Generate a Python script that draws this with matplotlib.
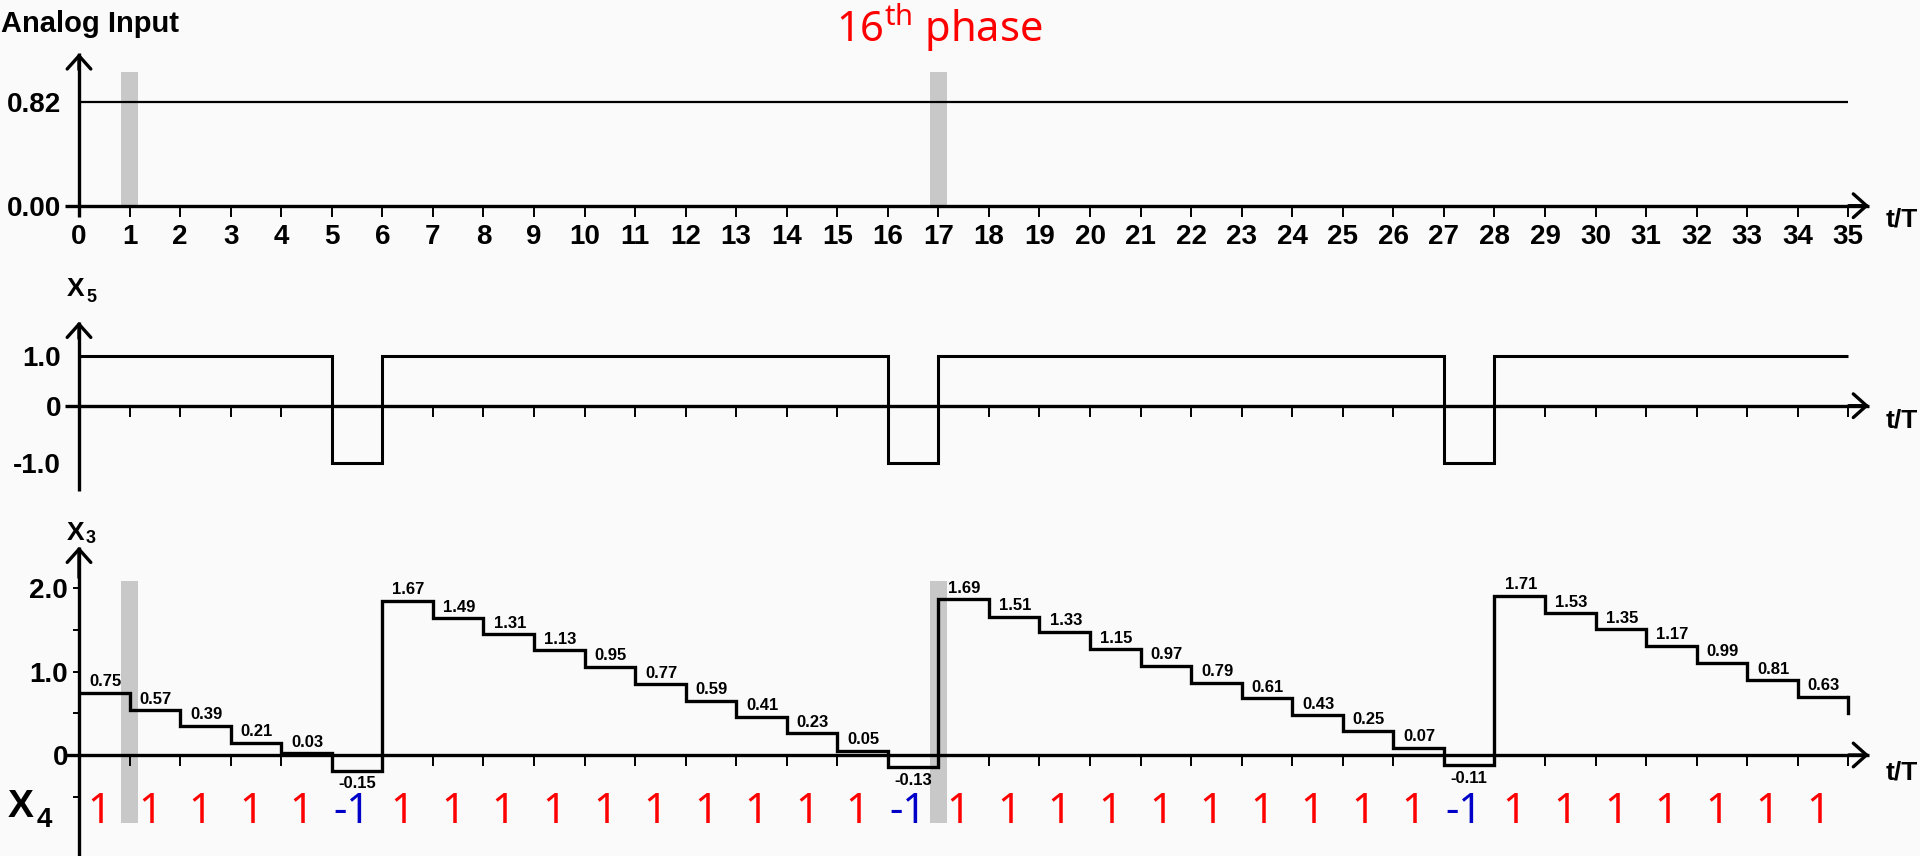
import numpy as np
import matplotlib
matplotlib.use('Agg')
import matplotlib.pyplot as plt

plt.rcParams['font.family'] = ['Liberation Sans', 'DejaVu Sans']
plt.rcParams['font.weight'] = 'bold'
plt.rcParams['mathtext.fontset'] = 'custom'
plt.rcParams['mathtext.rm'] = 'Noto Sans'

# data
t_edges = np.arange(36)                     # t/T = 0 .. 35
t_ticks = np.arange(36)
analog_level = 0.82
phase_t = [1, 17]                           # grey phase markers
x5_levels = [1, 1, 1, 1, 1, -1.17, 1, 1, 1, 1, 1, 1, 1, 1, 1, 1, -1.17, 1,
             1, 1, 1, 1, 1, 1, 1, 1, 1, -1.17, 1, 1, 1, 1, 1, 1, 1]
x3_levels = [0.75, 0.54, 0.35, 0.15, 0.02, -0.19, 1.85, 1.64, 1.45, 1.26,
             1.06, 0.85, 0.65, 0.46, 0.26, 0.05, -0.15, 1.87, 1.66, 1.48,
             1.27, 1.07, 0.87, 0.68, 0.48, 0.29, 0.09, -0.12, 1.91, 1.70,
             1.51, 1.31, 1.11, 0.90, 0.70]
x3_end = 0.50
x3_labels = ['0.75', '0.57', '0.39', '0.21', '0.03', '-0.15', '1.67', '1.49',
             '1.31', '1.13', '0.95', '0.77', '0.59', '0.41', '0.23', '0.05',
             '-0.13', '1.69', '1.51', '1.33', '1.15', '0.97', '0.79', '0.61',
             '0.43', '0.25', '0.07', '-0.11', '1.71', '1.53', '1.35', '1.17',
             '0.99', '0.81', '0.63']
x4 = [1, 1, 1, 1, 1, -1, 1, 1, 1, 1, 1, 1, 1, 1, 1, 1, -1, 1,
      1, 1, 1, 1, 1, 1, 1, 1, 1, -1, 1, 1, 1, 1, 1, 1, 1]

W, H = 1920, 856
X0, PXT = 79, 50.55          # pixel of t=0, pixels per t unit
LW_AX = 2.4

fig = plt.figure(figsize=(W / 100, H / 100), dpi=100, facecolor='#fafafa')


def ftext(x, y, s, **kw):
    fig.text(x / W, 1 - y / H, s, **kw)


def panel(top, bottom, zero_px, ppu):
    ax = fig.add_axes([0, 1 - bottom / H, 1, (bottom - top) / H])
    ax.set_xlim(-X0 / PXT, (W - X0) / PXT)
    ax.set_ylim((zero_px - bottom) / ppu, (zero_px - top) / ppu)
    ax.patch.set_alpha(0)
    val = lambda p: (zero_px - p) / ppu
    return ax, val


def axes_lines(ax, y_lo, y_hi):
    ax.spines[['top', 'right']].set_visible(False)
    for s in ['bottom', 'left']:
        ax.spines[s].set_position(('data', 0))
        ax.spines[s].set_linewidth(LW_AX)
        ax.spines[s].set_capstyle('butt')
    x_tip = (1869 - X0) / PXT
    ax.spines['bottom'].set_bounds((65 - X0) / PXT, x_tip)
    ax.spines['left'].set_bounds(y_lo, y_hi)
    arr = dict(arrowstyle='->,head_length=0.95,head_width=0.85', lw=LW_AX,
               color='black', shrinkA=0, shrinkB=0, mutation_scale=10)
    ax.annotate('', xy=(x_tip, 0), xytext=(x_tip - 0.4, 0), arrowprops=arr,
                annotation_clip=False)
    ax.annotate('', xy=(0, y_hi), xytext=(0, y_hi - (y_hi - y_lo) * 0.1),
                arrowprops=arr, annotation_clip=False)
    ax.set_xticks(t_ticks)
    ax.tick_params(axis='x', direction='out', length=8, width=1.4, pad=5.5,
                   labelsize=20)


# ---- top: analog input
ax1, v1 = panel(0, 275, 205.7, 126.8)
axes_lines(ax1, v1(216.7), v1(53.3))
ax1.bar(phase_t, v1(72), width=0.33, color='#c8c8c8', zorder=1)
ax1.hlines(analog_level, t_edges[0], t_edges[-1], color='black', lw=1.6, zorder=2)
ax1.set_yticks([0, analog_level], ['0.00', '0.82'])
ax1.tick_params(axis='y', length=0, pad=13, labelsize=20)
ftext(1, 32, 'Analog Input', fontsize=21, va='baseline')
ftext(836, 41.7, r'16$^{\mathrm{th}}$ phase', fontsize=30, color='#ff0000',
      fontfamily='Noto Sans', fontweight='normal', va='baseline')
ftext(1886, 207, 't/T', fontsize=19, va='top')

# ---- middle: X5
ax2, v2 = panel(275, 505, 405.7, 49.4)
axes_lines(ax2, v2(490.7), v2(321.7))
ax2.stairs(x5_levels, t_edges, baseline=None, color='black', lw=2.2, zorder=2)
ax2.set_yticks([1, 0, min(x5_levels)], ['1.0', '0', '-1.0'])
ax2.tick_params(axis='y', length=0, pad=13, labelsize=20)
ax2.tick_params(axis='x', labelbottom=False)
ftext(66.7, 296, 'X', fontsize=19, va='baseline')
ftext(86, 302, '5', fontsize=13, va='baseline')
ftext(1886, 409, 't/T', fontsize=19, va='top')

# ---- bottom: X3 and X4
ax3, v3 = panel(505, 856, 755, 83.3)
axes_lines(ax3, v3(856), v3(546.7))
ax3.bar(phase_t, v3(581) - v3(822.7), bottom=v3(822.7), width=0.33,
        color='#c8c8c8', zorder=1)
ax3.stairs(x3_levels, t_edges, baseline=None, color='black', lw=2.4, zorder=2)
ax3.plot([t_edges[-1], t_edges[-1]], [x3_levels[-1], x3_end], color='black',
         lw=2.4, zorder=2)
for i, (lv, lb) in enumerate(zip(x3_levels, x3_labels)):
    if lv >= 0:
        ax3.annotate(lb, (t_edges[i] + 0.2, lv), xytext=(0, 2.5),
                     textcoords='offset points', ha='left', va='bottom',
                     fontsize=12)
    else:
        ax3.annotate(lb, (t_edges[i] + 0.5, lv), xytext=(0, -4),
                     textcoords='offset points', ha='center', va='top',
                     fontsize=12)
for i, d in enumerate(x4):
    ax3.text(t_edges[i] + 0.4, v3(823), str(d), ha='center', va='baseline',
             fontsize=30, fontfamily='Noto Sans', fontweight='normal',
             color='#ff0000' if d > 0 else '#0000c8')
ax3.set_yticks([0, 1, 2], ['0', '1.0', '2.0'])
ax3.set_yticks([-0.5, 0.5, 1.5], minor=True)
ax3.tick_params(axis='y', which='both', direction='out', length=4.5,
                width=1.4, pad=3.5, labelsize=20)
ax3.tick_params(axis='x', labelbottom=False)
ftext(66.7, 540, 'X', fontsize=19, va='baseline')
ftext(86, 543, '3', fontsize=13, va='baseline')
ftext(8, 817, 'X', fontsize=28, va='baseline')
ftext(37, 827, '4', fontsize=20, va='baseline')
ftext(1886, 760, 't/T', fontsize=19, va='top')

fig.savefig('out.png', dpi=100, facecolor=fig.get_facecolor())
